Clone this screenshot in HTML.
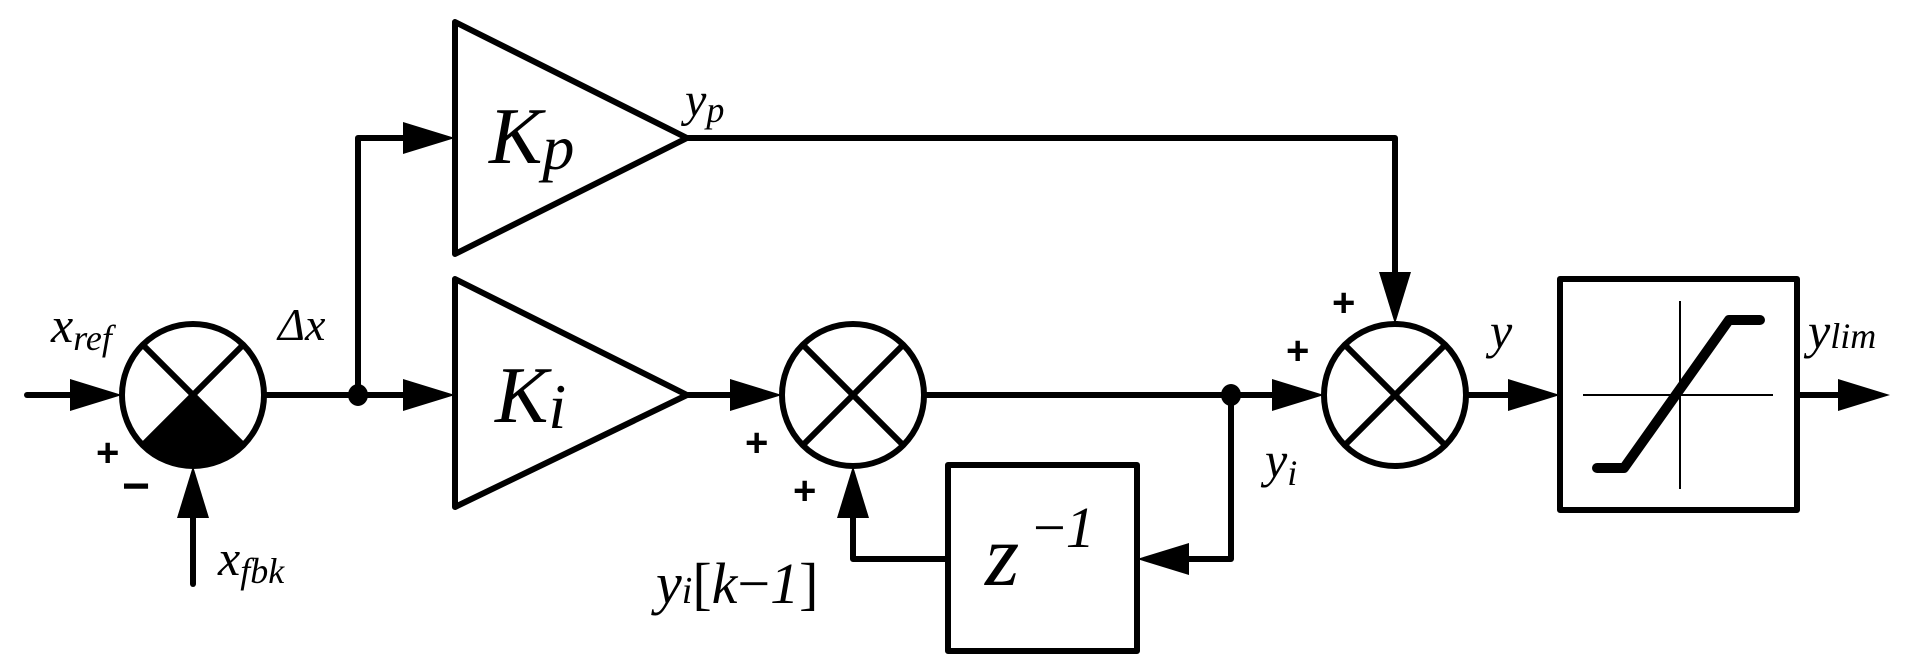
<!DOCTYPE html>
<html><head><meta charset="utf-8"><style>
html,body{margin:0;padding:0;background:#fff;}
svg{display:block;}
text{font-family:"Liberation Serif",serif;font-style:italic;fill:#000;}
.pm{font-family:"Liberation Sans",sans-serif;font-style:normal;font-weight:bold;}
</style></head><body>
<svg width="1917" height="669" viewBox="0 0 1917 669" xmlns="http://www.w3.org/2000/svg">
<g stroke="#000" stroke-width="6" fill="none" stroke-linecap="round" stroke-linejoin="round">
<!-- input -->
<line x1="27" y1="395" x2="100" y2="395"/>
<!-- summer1 -->
<circle cx="193" cy="395" r="71"/>
<line x1="143" y1="345" x2="243" y2="445"/>
<line x1="243" y1="345" x2="143" y2="445"/>
<!-- out of summer1 -->
<line x1="264" y1="395" x2="410" y2="395"/>
<polyline points="358,395 358,138 410,138"/>
<!-- Kp triangle -->
<polygon points="455,22 455,254 687,138"/>
<polygon points="455,279 455,507 687,395"/>
<!-- yp line -->
<polyline points="687,138 1395,138 1395,280"/>
<!-- Ki to summer2 -->
<line x1="687" y1="395" x2="735" y2="395"/>
<circle cx="853" cy="395" r="71"/>
<line x1="803" y1="345" x2="903" y2="445"/>
<line x1="903" y1="345" x2="803" y2="445"/>
<line x1="924" y1="395" x2="1280" y2="395"/>
<!-- feedback -->
<polyline points="1231,395 1231,559 1180,559"/>
<rect x="948" y="465" width="189" height="186"/>
<polyline points="948,559 853,559 853,505"/>
<!-- summer3 -->
<circle cx="1395" cy="395" r="71"/>
<line x1="1345" y1="345" x2="1445" y2="445"/>
<line x1="1445" y1="345" x2="1345" y2="445"/>
<line x1="1466" y1="395" x2="1515" y2="395"/>
<!-- saturation -->
<rect x="1560" y="279" width="237" height="231"/>
<line x1="1797" y1="395" x2="1845" y2="395"/>
<!-- fbk -->
<line x1="193" y1="584" x2="193" y2="505"/>
</g>
<!-- summer1 filled wedge -->
<path d="M193,395 L143,445 A71,71 0 0 0 243,445 Z" fill="#000" stroke="#000" stroke-width="4"/>
<!-- saturation internals -->
<g stroke="#000" stroke-width="2">
<line x1="1583" y1="395" x2="1773" y2="395"/>
<line x1="1680" y1="301" x2="1680" y2="489"/>
</g>
<polyline points="1597,468 1624,468 1729,320 1760,320" fill="none" stroke="#000" stroke-width="10" stroke-linecap="round" stroke-linejoin="round"/>
<!-- dots -->
<ellipse cx="358" cy="395" rx="10" ry="11" fill="#000"/>
<ellipse cx="1231" cy="395" rx="10" ry="11" fill="#000"/>
<!-- arrowheads -->
<g fill="#000">
<polygon points="122,395 70,379 70,411"/>
<polygon points="455,395 403,379 403,411"/>
<polygon points="455,138 403,122 403,154"/>
<polygon points="782,395 730,379 730,411"/>
<polygon points="1324,395 1272,379 1272,411"/>
<polygon points="1560,395 1508,379 1508,411"/>
<polygon points="1890,395 1838,379 1838,411"/>
<polygon points="1395,324 1379,272 1411,272"/>
<polygon points="853,466 837,518 869,518"/>
<polygon points="193,466 177,518 209,518"/>
<polygon points="1137,559 1189,543 1189,575"/>
</g>
<!-- labels -->
<text x="51" y="342" font-size="50">x<tspan font-size="36" dy="8">ref</tspan></text>
<text x="278" y="340" font-size="46">Δx</text>
<text x="685" y="116" font-size="48">y<tspan font-size="36" dy="6">p</tspan></text>
<text x="489" y="163" font-size="80">K<tspan font-size="64" dy="6">p</tspan></text>
<text x="495" y="422" font-size="80">K<tspan font-size="64" dy="6">i</tspan></text>
<text x="218" y="575" font-size="50">x<tspan font-size="36" dy="8">fbk</tspan></text>
<text x="1490" y="348" font-size="50">y</text>
<text x="1808" y="348" font-size="50">y<tspan font-size="36" dy="0">lim</tspan></text>
<text x="1265" y="477" font-size="50">y<tspan font-size="36" dy="8">i</tspan></text>
<text x="656" y="603" font-size="58">y<tspan font-size="38" dy="0">i</tspan><tspan font-style="normal">[</tspan>k<tspan font-style="normal">−</tspan>1<tspan font-style="normal">]</tspan></text>
<text x="985" y="585" font-size="88">z</text>
<text x="1033" y="547" font-size="58"><tspan font-style="normal">−</tspan>1</text>
<text class="pm" x="96" y="466" font-size="40">+</text>
<text class="pm" x="122" y="502" font-size="48">−</text>
<text class="pm" x="745" y="456" font-size="40">+</text>
<text class="pm" x="793" y="504" font-size="40">+</text>
<text class="pm" x="1332" y="316" font-size="40">+</text>
<text class="pm" x="1286" y="364" font-size="40">+</text>
</svg>
</body></html>
